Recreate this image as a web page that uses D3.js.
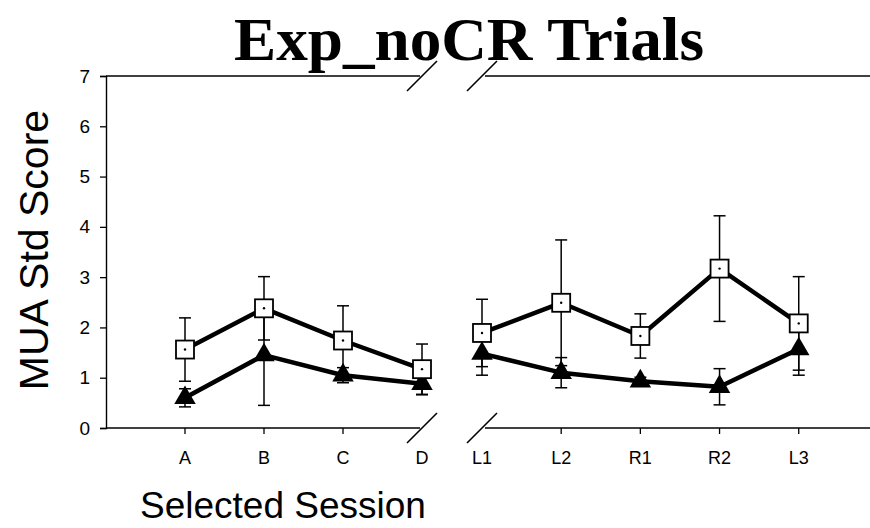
<!DOCTYPE html>
<html>
<head>
<meta charset="utf-8">
<script src="https://cdn.jsdelivr.net/npm/d3@7"></script>
<style>
  body { margin: 0; background: #fff; }
  svg { display: block; }
</style>
</head>
<body>
<svg id="chart" width="870" height="528"></svg>
<script>
// sessions, split by the axis break
const leftSessions = ['A', 'B', 'C', 'D'];
const rightSessions = ['L1', 'L2', 'R1', 'R2', 'L3'];
const yTicks = [0, 1, 2, 3, 4, 5, 6, 7];

// open squares
const squareMean = [1.56, 2.38, 1.74, 1.17, 1.89, 2.49, 1.83, 3.17, 2.08];
const squareErr = [0.63, 0.63, 0.69, 0.5, 0.67, 1.25, 0.44, 1.05, 0.93];
// filled triangles
const triMean = [0.6, 1.45, 1.05, 0.88, 1.48, 1.1, 0.93, 0.82, 1.57];
const triErr = [0.18, 1.0, 0.15, 0.22, 0.43, 0.3, 0.08, 0.36, 0.52];

const svg = d3.select('#chart');

const plotTop = 76, plotBottom = 428;
const y = d3.scaleLinear().domain([0, 7]).range([plotBottom, plotTop]);

// two x segments: left A..D, right L1..L3
const xLeft = d3.scaleLinear().domain([0, 4]).range([106, 422]);
const xRight = d3.scaleLinear().domain([0, 4.9]).range([482, 870]);
const nLeft = leftSessions.length;
const xPos = i => i < nLeft ? xLeft(i + 1) : xRight(i - nLeft);

const allSessions = leftSessions.concat(rightSessions);

// frame lines
const frame = svg.append('g').attr('stroke', '#000').attr('stroke-width', 1.4).attr('fill', 'none');
[plotTop, plotBottom].forEach(yy => {
  frame.append('line').attr('x1', xLeft(0)).attr('x2', xLeft(4) - 2).attr('y1', yy).attr('y2', yy);
  frame.append('line').attr('x1', xRight(0) + 3).attr('x2', xRight(4.9)).attr('y1', yy).attr('y2', yy);
  // break slashes
  [xLeft(4), xRight(0)].forEach(cx => {
    frame.append('line')
      .attr('x1', cx - 15).attr('y1', yy + 15)
      .attr('x2', cx + 15).attr('y2', yy - 15)
      .attr('stroke-width', 1.6);
  });
});

// y axis
const yAxis = svg.append('g')
  .attr('transform', `translate(${xLeft(0)},0)`)
  .call(d3.axisLeft(y).tickValues(yTicks).tickSize(6).tickPadding(10).tickFormat(d3.format('d')));
yAxis.select('.domain').attr('stroke-width', 1.4);
yAxis.selectAll('.tick line').attr('stroke-width', 1.3);
yAxis.selectAll('text')
  .attr('font-family', 'Liberation Sans, Arial, sans-serif')
  .attr('font-size', 19)
  .attr('fill', '#000');

// x ticks and labels
const xg = svg.append('g');
allSessions.forEach((s, i) => {
  const x = xPos(i);
  if (s !== 'D' && s !== 'L1') {
    xg.append('line').attr('x1', x).attr('x2', x).attr('y1', plotBottom).attr('y2', plotBottom + 6)
      .attr('stroke', '#000').attr('stroke-width', 1.3);
  }
  xg.append('text')
    .attr('x', x).attr('y', 464)
    .attr('text-anchor', 'middle')
    .attr('font-family', 'Liberation Sans, Arial, sans-serif')
    .attr('font-size', 18)
    .text(s);
});

// error bars
function errorBars(mean, err) {
  const g = svg.append('g').attr('stroke', '#000').attr('stroke-width', 1.5);
  mean.forEach((m, i) => {
    const x = xPos(i);
    g.append('line').attr('x1', x).attr('x2', x).attr('y1', y(m - err[i])).attr('y2', y(m + err[i]));
    [m - err[i], m + err[i]].forEach(v => {
      g.append('line').attr('x1', x - 6).attr('x2', x + 6).attr('y1', y(v)).attr('y2', y(v));
    });
  });
}
errorBars(squareMean, squareErr);
errorBars(triMean, triErr);

// connecting lines, one per segment
const line = d3.line().x(d => xPos(d.i)).y(d => y(d.v));
function drawLines(mean) {
  const pts = mean.map((v, i) => ({ i, v }));
  [pts.slice(0, nLeft), pts.slice(nLeft)].forEach(seg => {
    svg.append('path').attr('d', line(seg))
      .attr('fill', 'none').attr('stroke', '#000').attr('stroke-width', 4.5)
      .attr('stroke-linejoin', 'round');
  });
}
drawLines(squareMean);
drawLines(triMean);

// triangles
svg.append('g').selectAll('path')
  .data(triMean)
  .join('path')
  .attr('d', d3.symbol(d3.symbolTriangle, 200))
  .attr('transform', (d, i) => `translate(${xPos(i)},${y(d)})`)
  .attr('fill', '#000');

// squares
const sq = 18;
const sg = svg.append('g');
squareMean.forEach((m, i) => {
  sg.append('rect')
    .attr('x', xPos(i) - sq / 2).attr('y', y(m) - sq / 2)
    .attr('width', sq).attr('height', sq)
    .attr('fill', '#fff').attr('stroke', '#000').attr('stroke-width', 1.8);
  sg.append('circle').attr('cx', xPos(i)).attr('cy', y(m)).attr('r', 1.2).attr('fill', '#000');
});

// titles
svg.append('text')
  .attr('x', 469).attr('y', 60)
  .attr('text-anchor', 'middle')
  .attr('font-family', 'Liberation Serif, Times New Roman, serif')
  .attr('font-weight', 'bold')
  .attr('font-size', 62)
  .attr('textLength', 470)
  .attr('lengthAdjust', 'spacingAndGlyphs')
  .text('Exp_noCR Trials');

svg.append('text')
  .attr('transform', 'translate(48,250) rotate(-90)')
  .attr('text-anchor', 'middle')
  .attr('font-family', 'Liberation Sans, Arial, sans-serif')
  .attr('font-size', 41)
  .text('MUA Std Score');

svg.append('text')
  .attr('x', 140).attr('y', 518)
  .attr('font-family', 'Liberation Sans, Arial, sans-serif')
  .attr('font-size', 37)
  .text('Selected Session');
</script>
</body>
</html>
